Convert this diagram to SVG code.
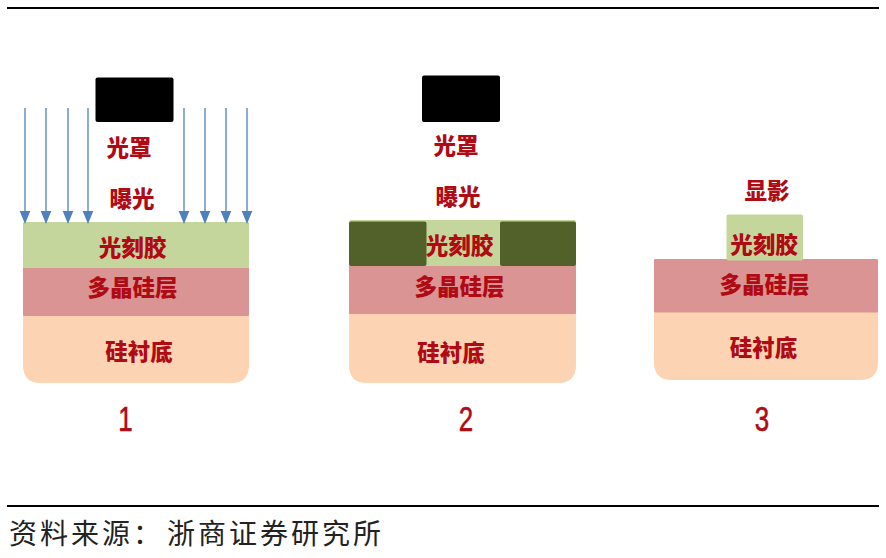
<svg xmlns="http://www.w3.org/2000/svg" width="886" height="558" viewBox="0 0 886 558">
<style>
text{font-family:"Noto Sans CJK SC","Noto Sans",sans-serif}
.l{font-size:22.5px;font-weight:900;fill:#b00a14;text-anchor:middle}
.n{font-family:"Liberation Sans",sans-serif;font-size:36px;fill:#b00a14;text-anchor:middle;stroke:#b00a14;stroke-width:.6}
.rule{stroke:#000;stroke-width:2}
.sub{fill:#fdd4b3}
.poly{fill:#d99493}
.pr{fill:#c4d69c}
.dark{fill:#526029}
.mask{fill:#000}
</style>
<line class="rule" x1="7" y1="8" x2="879" y2="8"/>
<line class="rule" x1="7" y1="506" x2="879" y2="506"/>
<g id="step1">
<rect class="mask" x="95.500" y="77.500" width="78" height="44.500" rx="2"/>
<path class="sub" d="M23 315H249V365Q249 383 231 383H41Q23 383 23 365Z"/>
<rect class="poly" x="23" y="267" width="226" height="49" rx="1"/>
<rect class="pr" x="23" y="222" width="226" height="46" rx="1"/>
<text class="l" x="129" y="156">光罩</text>
<text class="l" x="132" y="207">曝光</text>
<text class="l" x="132.500" y="256">光刻胶</text>
<text class="l" x="132.500" y="296">多晶硅层</text>
<text class="l" x="139" y="360">硅衬底</text>
<text class="n" transform="translate(125.500 431) scale(.72 1)">1</text>
</g>
<g id="step2">
<rect class="mask" x="422" y="75.500" width="78" height="46.500" rx="2"/>
<path class="sub" d="M349 313H576V365Q576 383 558 383H367Q349 383 349 365Z"/>
<rect class="poly" x="349" y="265" width="227" height="49" rx="1"/>
<rect class="pr" x="349" y="220" width="227" height="46" rx="2"/>
<rect class="dark" x="349" y="221.500" width="77.500" height="44.500" rx="2"/>
<rect class="dark" x="500" y="221.500" width="76" height="44.500" rx="2"/>
<text class="l" x="456" y="154">光罩</text>
<text class="l" x="458" y="205">曝光</text>
<text class="l" x="459.500" y="254">光刻胶</text>
<text class="l" x="459.500" y="295">多晶硅层</text>
<text class="l" x="451" y="361">硅衬底</text>
<text class="n" transform="translate(466 431) scale(.72 1)">2</text>
</g>
<g id="step3">
<path class="sub" d="M654 312H878V362Q878 380 860 380H672Q654 380 654 362Z"/>
<rect class="poly" x="654" y="259" width="224" height="53.500" rx="1"/>
<rect class="pr" x="726.500" y="214.500" width="76.500" height="46" rx="2"/>
<text class="l" x="767" y="199">显影</text>
<text class="l" x="764" y="253">光刻胶</text>
<text class="l" x="764.500" y="293">多晶硅层</text>
<text class="l" x="763.500" y="356">硅衬底</text>
<text class="n" transform="translate(762 431) scale(.72 1)">3</text>
</g>
<g id="connectors" fill="#4f81bd">
<g stroke="#6f99c9" stroke-width="1.6">
<line x1="25" y1="108" x2="25" y2="212"/><line x1="46" y1="108" x2="46" y2="212"/><line x1="68" y1="108" x2="68" y2="212"/><line x1="88" y1="108" x2="88" y2="212"/><line x1="184" y1="108" x2="184" y2="212"/><line x1="205" y1="108" x2="205" y2="212"/><line x1="226" y1="108" x2="226" y2="212"/><line x1="247" y1="108" x2="247" y2="212"/>
</g>
<path d="M19.700 211H30.300L25 224Z"/><path d="M40.700 211H51.300L46 224Z"/><path d="M62.700 211H73.300L68 224Z"/><path d="M82.700 211H93.300L88 224Z"/><path d="M178.700 211H189.300L184 224Z"/><path d="M199.700 211H210.300L205 224Z"/><path d="M220.700 211H231.300L226 224Z"/><path d="M241.700 211H252.300L247 224Z"/>
</g>
<text x="9" y="544" font-size="28" letter-spacing="3" fill="#222" font-weight="400">资料来源：<tspan x="167">浙商证券研究所</tspan></text>
</svg>
